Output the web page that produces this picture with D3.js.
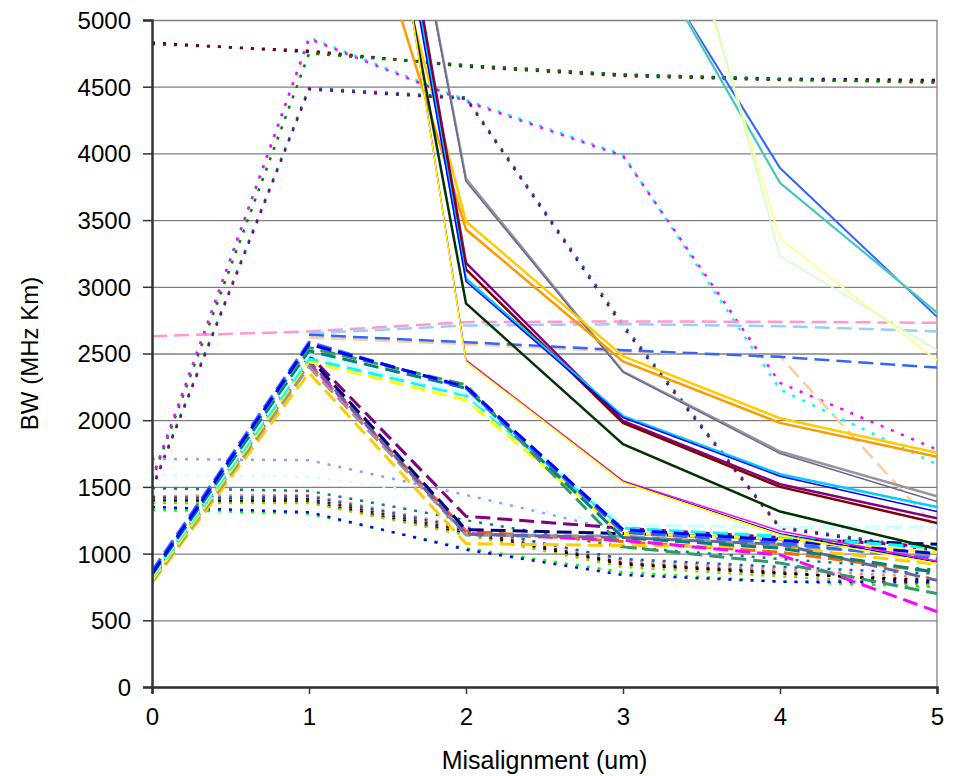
<!DOCTYPE html>
<html>
<head>
<meta charset="utf-8">
<script src="https://cdn.jsdelivr.net/npm/d3@7"></script>
<style>
  body { margin: 0; background: #fff; }
  text { font-family: "Liberation Sans", Arial, sans-serif; fill: #000; }
</style>
</head>
<body>
<svg id="chart" width="959" height="776"></svg>
<script>
// x categories (um)
var misalignment = [0, 1, 2, 3, 4, 5];
var yTicks = [0, 500, 1000, 1500, 2000, 2500, 3000, 3500, 4000, 4500, 5000];

// solid series (BW values; many leave the top of the axis)
var solidValues = [
    [14000, 10000, 3810, 2365, 1765, 1430],
    [14000, 10000, 3790, 2360, 1750, 1390],
    [10000, 7260, 3430, 2440, 1980, 1725],
    [10000, 7960, 3490, 2480, 2015, 1755],
    [14000, 9900, 3180, 1995, 1520, 1265],
    [14000, 9800, 3130, 1980, 1500, 1230],
    [14000, 9800, 3060, 2030, 1595, 1350],
    [14000, 9700, 3040, 2020, 1580, 1315],
    [14000, 9200, 2875, 1820, 1315, 1035],
    [14000, 10000, 2450, 1545, 1170, 945],
    [14000, 10000, 2445, 1540, 1150, 935],
    [14000, 10000, 2440, 1535, 1135, 925],
    [14000, 12000, 10000, 5790, 3890, 2775],
    [14000, 12000, 10000, 5850, 3775, 2810],
    [14000, 12000, 10000, 5830, 3780, 2805],
    [14000, 12000, 10000, 7240, 3360, 2450],
    [14000, 12000, 10000, 7500, 3230, 2525]
];

// dashed series
var dashedValues = [
    [2630, 2665, 2735, 2740, 2738, 2730],
    [null, 2650, 2710, 2720, 2705, 2665],
    [null, 2620, 2570, 2515, 2478, 1185],
    [null, 2640, 2585, 2525, 2475, 2395],
    [830, 2490, 1280, 1190, 1120, 1050],
    [810, 2420, 1170, 1090, 1010, 860],
    [780, 2355, 1075, 1060, 1050, 920],
    [800, 2430, 1150, 1100, 990, 565],
    [790, 2400, 1140, 1130, 1060, 980],
    [805, 2445, 1145, 1120, 1070, 800],
    [820, 2470, 1180, 1150, 1110, 1070],
    [800, 2440, 2150, 1150, 1110, 1010],
    [820, 2460, 2185, 1190, 1130, 1040],
    [830, 2490, 2200, 1215, 1200, 1200],
    [840, 2520, 2240, 1120, 1040, 860],
    [860, 2545, 2265, 1050, 930, 700],
    [870, 2585, 2240, 1160, 1080, 960],
    [850, 2570, 2250, 1180, 1100, 1000]
];

// dotted series
var dottedValues = [
    [4830, 4760, 4660, 4590, 4560, 4550],
    [4820, 4770, 4650, 4580, 4550, 4540],
    [1550, 4750, 4660, 4590, 4555, 4530],
    [1560, 4870, 4400, 3990, 2230, 1670],
    [1560, 4860, 4390, 3980, 2280, 1780],
    [1490, 4490, 4420, 2720, 1200, 1030],
    [1480, 4480, 4410, 2700, 1190, 1020],
    [1710, 1700, 1440, 1165, 1090, 1010],
    [1590, 1575, 1420, 1215, 1190, 1180],
    [1490, 1470, 1250, 1050, 960, 880],
    [1430, 1440, 1200, 950, 880, 820],
    [1420, 1410, 1170, 930, 860, 780],
    [1400, 1390, 1150, 920, 850, 800],
    [1410, 1430, 1190, 960, 900, 850],
    [1380, 1380, 1140, 900, 830, 760],
    [1330, 1300, 1040, 860, 790, 750],
    [1350, 1310, 1030, 840, 790, 785]
];

// styles, parallel to the value arrays above
var solidColors = ["#969696", "#666699", "#FF9900", "#FFCC00", "#800080", "#800000",
    "#00CCFF", "#0000FF", "#003300", "#FF00FF", "#000080", "#FFFF00",
    "#3366FF", "#FFCC99", "#33CCCC", "#FFFF99", "#CCFFCC"];
var solidWidths = [2.5, 1.5, 2.5, 2.5, 2.5, 2.5, 2.5, 1.5, 2.5, 1.5, 1, 1.5, 2, 2, 2, 2, 1.5];
var dashedColors = ["#FF99CC", "#99CCFF", "#FFCC99", "#3366FF", "#800080", "#FF6600",
    "#FFCC00", "#FF00FF", "#969696", "#666699", "#000080", "#FFFF00",
    "#00FFFF", "#CCFFFF", "#008080", "#339966", "#3366FF", "#0000FF"];
var dottedColors = ["#000080", "#800000", "#008000", "#00FFFF", "#FF00FF", "#008080", "#800080",
    "#9999FF", "#CCFFFF", "#008080", "#FF8080", "#800000", "#000000", "#0066CC",
    "#99CC00", "#00FF00", "#0000FF"];

(function () {
    "use strict";
    var svg = d3.select("#chart");
    var left = 152, right = 937, top = 20, bottom = 687;

    var x = d3.scaleLinear().domain([0, 5]).range([left, right]);
    var y = d3.scaleLinear().domain([0, 5000]).range([bottom, top]);

    svg.append("defs").append("clipPath").attr("id", "plot-clip")
        .append("rect")
        .attr("x", left).attr("y", top)
        .attr("width", right - left).attr("height", bottom - top);

    // gridlines
    svg.append("g")
        .attr("transform", "translate(" + left + ",0)")
        .call(d3.axisLeft(y).tickValues(yTicks).tickSize(-(right - left)).tickFormat(""))
        .call(function (g) {
            g.select(".domain").remove();
            g.selectAll("line").attr("stroke", "#808080").attr("stroke-width", 1.3);
        });

    // right border
    svg.append("line")
        .attr("x1", right).attr("x2", right).attr("y1", top).attr("y2", bottom)
        .attr("stroke", "#808080").attr("stroke-width", 1.3);

    var plot = svg.append("g").attr("clip-path", "url(#plot-clip)");

    var line = d3.line()
        .defined(function (d) { return d != null; })
        .x(function (d, i) { return x(misalignment[i]); })
        .y(function (d) { return y(d); });

    plot.selectAll("path.dotted")
        .data(dottedValues)
      .enter().append("path")
        .attr("class", "dotted")
        .attr("d", line)
        .attr("fill", "none")
        .attr("stroke", function (d, i) { return dottedColors[i]; })
        .attr("stroke-width", 2.5)
        .attr("stroke-dasharray", "3,8");

    plot.selectAll("path.dashed")
        .data(dashedValues)
      .enter().append("path")
        .attr("class", "dashed")
        .attr("d", line)
        .attr("fill", "none")
        .attr("stroke", function (d, i) { return dashedColors[i]; })
        .attr("stroke-width", function (d, i) { return i < 4 ? 2.5 : 3; })
        .attr("stroke-dasharray", "15,7");

    plot.selectAll("path.solid")
        .data(solidValues)
      .enter().append("path")
        .attr("class", "solid")
        .attr("d", line)
        .attr("fill", "none")
        .attr("stroke", function (d, i) { return solidColors[i]; })
        .attr("stroke-width", function (d, i) { return solidWidths[i]; });

    // axes
    var yAxis = svg.append("g")
        .attr("transform", "translate(" + left + ",0)")
        .call(d3.axisLeft(y).tickValues(yTicks).tickSize(9).tickPadding(12)
            .tickFormat(d3.format("d")));
    var xAxis = svg.append("g")
        .attr("transform", "translate(0," + bottom + ")")
        .call(d3.axisBottom(x).tickValues(misalignment).tickSize(7).tickPadding(14)
            .tickFormat(d3.format("d")));

    [yAxis, xAxis].forEach(function (g) {
        g.select(".domain").attr("stroke", "#333").attr("stroke-width", 2.5);
        g.selectAll(".tick line").attr("stroke", "#333").attr("stroke-width", 1.5);
        g.selectAll("text")
            .style("font-family", '"Liberation Sans", Arial, sans-serif')
            .style("font-size", "24px")
            .attr("fill", "#000");
    });
    yAxis.selectAll("text").attr("dy", "0.35em");

    svg.append("text")
        .attr("x", (left + right) / 2).attr("y", 769)
        .attr("text-anchor", "middle")
        .style("font-size", "25px")
        .text("Misalignment (um)");

    svg.append("text")
        .attr("transform", "translate(38," + ((top + bottom) / 2) + ") rotate(-90)")
        .attr("text-anchor", "middle")
        .style("font-size", "24px")
        .text("BW (MHz Km)");
})();
</script>
</body>
</html>
